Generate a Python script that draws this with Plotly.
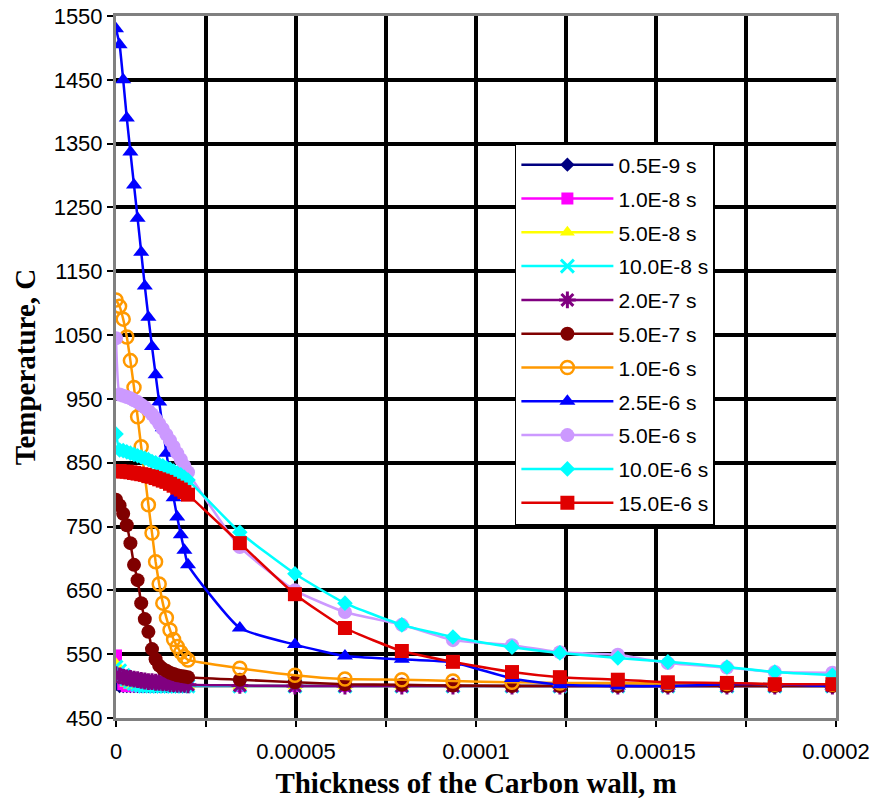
import plotly.graph_objects as go

# ---------------- data ----------------
x_dense = [0.0, 1e-6, 2e-6, 3e-6, 4e-6, 5e-6, 6e-6, 7e-6, 8e-6, 9e-6, 1.0e-5,
           1.1e-5, 1.2e-5, 1.3e-5, 1.4e-5, 1.5e-5, 1.6e-5, 1.7e-5, 1.8e-5, 1.9e-5, 2.0e-5]
x_coarse = [3.44e-5, 4.97e-5, 6.36e-5, 7.94e-5, 9.36e-5, 1.10e-4,
            1.233e-4, 1.394e-4, 1.533e-4, 1.697e-4, 1.83e-4, 1.99e-4]

names = ["0.5E-9 s", "1.0E-8 s", "5.0E-8 s", "10.0E-8 s", "2.0E-7 s", "5.0E-7 s",
         "1.0E-6 s", "2.5E-6 s", "5.0E-6 s", "10.0E-6 s", "15.0E-6 s"]

t_05e9_dense = [503, 500, 500, 500, 500, 500, 500, 500, 500, 500, 500,
                500, 500, 500, 500, 500, 500, 500, 500, 500, 500]
t_05e9_coarse = [500, 500, 500, 500, 500, 500, 500, 500, 500, 500, 500, 500]

t_1e8_dense = [548, 515, 503, 500, 500, 500, 500, 500, 500, 500, 500,
               500, 500, 500, 500, 500, 500, 500, 500, 500, 500]
t_1e8_coarse = [500, 500, 500, 500, 500, 500, 500, 500, 500, 500, 500, 500]

t_5e8_dense = [535, 522, 510, 504, 501, 500, 500, 500, 500, 500, 500,
               500, 500, 500, 500, 500, 500, 500, 500, 500, 500]
t_5e8_coarse = [500, 500, 500, 500, 500, 500, 500, 500, 500, 500, 500, 500]

t_10e8_dense = [530, 524, 517, 511, 507, 504, 502, 501, 500, 500, 500,
                500, 500, 500, 500, 500, 500, 500, 500, 500, 500]
t_10e8_coarse = [500, 500, 500, 500, 500, 500, 500, 500, 500, 500, 500, 500]

t_2e7_dense = [518, 516, 514, 513, 512, 511, 510, 509, 508, 507, 507,
               506, 506, 505, 505, 504, 504, 503, 503, 503, 502]
t_2e7_coarse = [501, 500, 500, 500, 500, 500, 500, 500, 500, 500, 500, 500]

t_5e7_dense = [792, 783, 770, 752, 724, 690, 666, 630, 605, 585, 558,
               542, 532, 527, 524, 521, 519, 517, 516, 515, 514]
t_5e7_coarse = [510, 506, 503, 502, 501, 500, 500, 500, 500, 500, 500, 500]

t_1e6_dense = [1105, 1095, 1075, 1047, 1010, 968, 922, 875, 830, 784, 740,
               695, 660, 630, 607, 588, 573, 562, 553, 546, 541]
t_1e6_coarse = [528, 517, 511, 510, 508, 506, 505, 505, 504, 504, 503, 503]

t_25e6_dense = [1530, 1505, 1450, 1390, 1337, 1285, 1233, 1180, 1127, 1078, 1032,
                988, 945, 905, 865, 830, 795, 765, 737, 713, 690]
t_25e6_coarse = [591, 565, 547, 542, 537, 512, 502, 500, 500, 503, 503, 500]

t_5e6_dense = [1045, 957, 955, 953, 951, 948, 945, 941, 937, 932, 926,
               919, 911, 903, 894, 885, 875, 865, 855, 845, 835]
t_5e6_coarse = [718, 650, 616, 596, 572, 564, 553, 549, 536, 529, 522, 521]

t_10e6_dense = [895, 870, 869, 867, 865, 863, 861, 859, 857, 855, 852,
                850, 847, 845, 842, 840, 837, 834, 831, 827, 823]
t_10e6_coarse = [741, 676, 630, 596, 577, 561, 552, 544, 538, 530, 522, 517]

t_15e6_dense = [837, 837, 836, 836, 835, 834, 833, 832, 831, 829, 828,
                826, 824, 822, 820, 817, 814, 811, 808, 804, 800]
t_15e6_coarse = [724, 644, 591, 555, 538, 522, 514, 510, 506, 505, 503, 503]

y_tick_vals = [450, 550, 650, 750, 850, 950, 1050, 1150, 1250, 1350, 1450, 1550]
x_tick_vals = [0, 0.000025, 0.00005, 0.000075, 0.0001, 0.000125, 0.00015, 0.000175, 0.0002]
x_tick_text = ["0", "", "0.00005", "", "0.0001", "", "0.00015", "", "0.0002"]

series = [
    (t_05e9_dense, t_05e9_coarse),
    (t_1e8_dense, t_1e8_coarse),
    (t_5e8_dense, t_5e8_coarse),
    (t_10e8_dense, t_10e8_coarse),
    (t_2e7_dense, t_2e7_coarse),
    (t_5e7_dense, t_5e7_coarse),
    (t_1e6_dense, t_1e6_coarse),
    (t_25e6_dense, t_25e6_coarse),
    (t_5e6_dense, t_5e6_coarse),
    (t_10e6_dense, t_10e6_coarse),
    (t_15e6_dense, t_15e6_coarse),
]

# ---------------- styles ----------------
styles = [
    dict(color="#000080", symbol="diamond", size=11),
    dict(color="#FF00FF", symbol="square", size=12),
    dict(color="#FFFF00", symbol="triangle-up", size=13),
    dict(color="#00FFFF", symbol="x-thin-open", size=13, lw=3),
    dict(color="#800080", symbol="asterisk-open", size=14, lw=3),
    dict(color="#800000", symbol="circle", size=14),
    dict(color="#FF9900", symbol="circle-open", size=13, lw=2.5),
    dict(color="#0000FF", symbol="triangle-up", size=14),
    dict(color="#CC99FF", symbol="circle", size=14),
    dict(color="#00FFFF", symbol="diamond", size=12),
    dict(color="#E00000", symbol="square", size=14),
]

fig = go.Figure()
for i, (name, (dense, coarse), st) in enumerate(zip(names, series, styles)):
    marker = dict(symbol=st["symbol"], size=st["size"], color=st["color"])
    if "lw" in st:
        marker["line"] = dict(color=st["color"], width=st["lw"])
    else:
        marker["line"] = dict(width=0)
    fig.add_trace(go.Scatter(
        x=x_dense + x_coarse,
        y=dense + coarse,
        mode="lines+markers",
        name=name,
        legendgroup=f"g{i}",
        line=dict(color=st["color"], width=2.5, shape="spline", smoothing=0.5),
        marker=marker,
    ))

tick_font = dict(family="Arial, Liberation Sans, sans-serif", size=22, color="black")

fig.update_layout(
    width=873, height=799,
    margin=dict(l=116, r=37, t=16, b=81, autoexpand=False),
    paper_bgcolor="white",
    plot_bgcolor="white",
    showlegend=True,
    legend=dict(
        x=0.554, y=0.819, xanchor="left", yanchor="top",
        bgcolor="white", bordercolor="black", borderwidth=1.5,
        font=dict(family="Arial, Liberation Sans, sans-serif", size=21, color="black"),
        itemwidth=92, tracegroupgap=3.5, traceorder="grouped",
    ),
    xaxis=dict(
        range=[0, 0.0002], automargin=False,
        tickmode="array", tickvals=x_tick_vals, ticktext=x_tick_text,
        showgrid=True, gridcolor="black", gridwidth=4,
        showline=True, linecolor="#808080", linewidth=3, mirror=True,
        ticks="outside", ticklen=6, tickcolor="black", tickwidth=2,
        tickfont=tick_font, ticklabelstandoff=6,
        zeroline=False,
        title=dict(text="<b>Thickness of the Carbon wall, m</b>",
                   font=dict(family="Times New Roman, Liberation Serif, serif", size=29, color="black"),
                   standoff=13),
    ),
    yaxis=dict(
        range=[450, 1550], automargin=False,
        tickmode="array", tickvals=y_tick_vals,
        showgrid=True, gridcolor="black", gridwidth=4,
        showline=True, linecolor="#808080", linewidth=3, mirror=True,
        ticks="outside", ticklen=6, tickcolor="black", tickwidth=2,
        tickfont=tick_font,
        zeroline=False,
        title=dict(text="<b>Temperature, C</b>",
                   font=dict(family="Times New Roman, Liberation Serif, serif", size=29, color="black"),
                   standoff=10),
    ),
)

fig.write_html("out.html")
